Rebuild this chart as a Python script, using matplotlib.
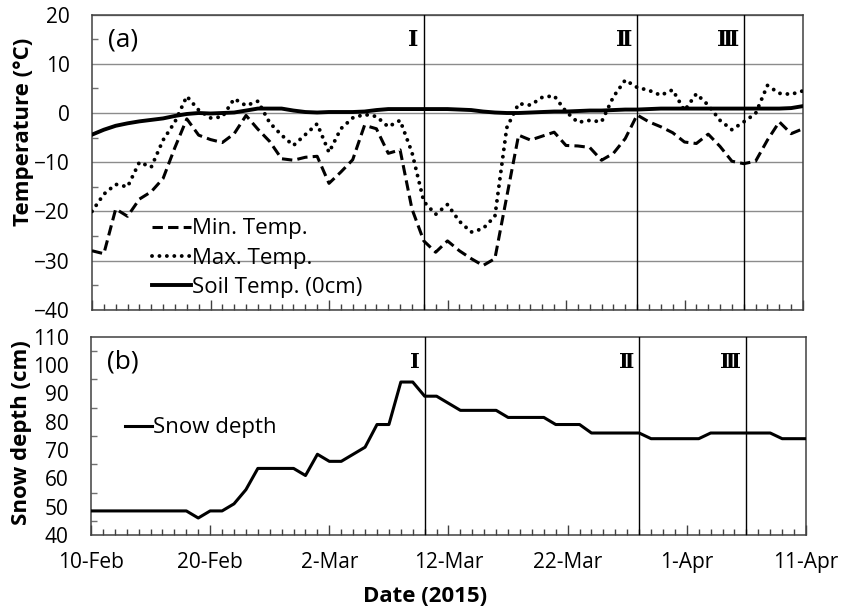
import numpy as np
import pandas as pd
import matplotlib
matplotlib.use("Agg")
import matplotlib.pyplot as plt
import matplotlib.dates as mdates
from matplotlib.ticker import MultipleLocator, FixedLocator

plt.rcParams["font.family"] = ["Open Sans", "DejaVu Sans"]

# Daily observations, 10 Feb - 11 Apr 2015
dates = pd.date_range("2015-02-10", "2015-04-11", freq="D")

min_temp = [-28.0, -28.6, -19.5, -21.0, -17.5, -16.0, -13.3, -7.0, -1.2, -4.5,
            -5.4, -6.0, -4.2, -0.5, -3.3, -5.8, -9.3, -9.6, -9.0, -8.8,
            -14.3, -12.0, -9.5, -2.5, -3.2, -8.2, -7.5, -19.5, -26.0, -28.3,
            -26.0, -28.0, -29.6, -31.0, -29.6, -17.0, -4.5, -5.5, -4.7, -3.9,
            -6.6, -6.7, -7.0, -9.6, -8.2, -5.2, -0.4, -1.8, -2.8, -4.0,
            -5.9, -6.2, -4.3, -6.8, -9.8, -10.3, -9.8, -5.5, -1.8, -4.2,
            -3.2]

max_temp = [-20.0, -16.5, -14.5, -15.0, -10.0, -11.0, -5.5, -1.8, 3.4, 0.6,
            -1.0, -0.8, 2.9, 1.5, 2.4, -2.0, -4.5, -6.6, -4.4, -2.2,
            -8.0, -3.2, -1.0, -0.3, -0.7, -2.8, -1.5, -8.0, -18.0, -20.6,
            -18.6, -22.0, -24.2, -23.5, -21.0, -3.0, 1.9, 1.6, 3.2, 3.5,
            0.3, -1.9, -1.5, -1.8, 3.3, 6.7, 5.2, 4.6, 3.6, 4.7,
            0.5, 3.9, 1.6, -1.5, -3.4, -1.8, -0.1, 5.6, 4.0, 3.8,
            4.5]

soil_temp = [-4.4, -3.4, -2.6, -2.1, -1.7, -1.4, -1.1, -0.6, -0.2, 0.0,
             -0.1, 0.0, 0.1, 0.5, 0.9, 0.9, 0.9, 0.5, 0.2, 0.1,
             0.2, 0.2, 0.2, 0.3, 0.6, 0.8, 0.8, 0.8, 0.8, 0.8,
             0.8, 0.7, 0.6, 0.3, 0.1, 0.0, 0.0, 0.1, 0.2, 0.3,
             0.3, 0.4, 0.5, 0.5, 0.6, 0.7, 0.7, 0.8, 0.9, 0.9,
             0.9, 0.9, 0.9, 0.9, 0.9, 0.9, 0.9, 0.9, 0.9, 1.0,
             1.4]

snow_depth = [48.5, 48.5, 48.5, 48.5, 48.5, 48.5, 48.5, 48.5, 48.5, 46.0,
              48.5, 48.5, 51.0, 56.0, 63.5, 63.5, 63.5, 63.5, 61.0, 68.5,
              66.0, 66.0, 68.5, 71.0, 79.0, 79.0, 94.0, 94.0, 89.0, 89.0,
              86.5, 84.0, 84.0, 84.0, 84.0, 81.5, 81.5, 81.5, 81.5, 79.0,
              79.0, 79.0, 76.0, 76.0, 76.0, 76.0, 76.0, 74.0, 74.0, 74.0,
              74.0, 74.0, 76.0, 76.0, 76.0, 76.0, 76.0, 76.0, 74.0, 74.0,
              74.0]

tick_dates = pd.date_range("2015-02-10", "2015-04-11", freq="10D")
tick_labels = ["10-Feb", "20-Feb", "2-Mar", "12-Mar", "22-Mar", "1-Apr", "11-Apr"]

# Boundaries between the observation periods
period_dates = pd.to_datetime(["2015-03-10", "2015-03-28", "2015-04-06"])
period_names = ["\u2160", "\u2161", "\u2162"]

W, H = 842, 611
fig = plt.figure(figsize=(W / 100, H / 100), dpi=100)


def frac_box(left, top, right, bottom):
    return [left / W, 1 - bottom / H, (right - left) / W, (bottom - top) / H]


ax1 = fig.add_axes(frac_box(92, 14.6, 803, 309.8))
ax2 = fig.add_axes(frac_box(91, 336.7, 806, 535))

spine_color = "#404040"
tick_fs = 15
leg_fs = 16

for ax in (ax1, ax2):
    for s in ax.spines.values():
        s.set_color(spine_color)
        s.set_linewidth(1.1)
    ax.set_xlim(dates[0], dates[-1])
    ax.xaxis.set_major_locator(FixedLocator(mdates.date2num(tick_dates)))
    ax.xaxis.set_minor_locator(mdates.DayLocator())
    ax.tick_params(axis="x", which="major", direction="in", length=7,
                   width=1, color=spine_color, labelsize=tick_fs, pad=12)
    ax.tick_params(axis="x", which="minor", direction="in", length=4,
                   width=1, color=spine_color)
    ax.tick_params(axis="y", which="major", direction="in", length=0,
                   labelsize=tick_fs, pad=16)
    ax.tick_params(axis="y", which="minor", direction="in", length=4,
                   width=1, color="#707070")
    for period in period_dates:
        ax.axvline(period, color="black", lw=1.0, zorder=4)

# (a) temperature panel
ax1.set_ylim(-40, 20)
ax1.yaxis.set_major_locator(MultipleLocator(10))
ax1.yaxis.set_minor_locator(MultipleLocator(5))
ax1.grid(axis="y", which="major", color="#8c8c8c", lw=1.0, zorder=0)
ax1.tick_params(axis="x", which="both", labelbottom=False)

ax1.plot(dates, min_temp, color="black", lw=2.2, ls=(0, (3.4, 1.7)),
         label="Min. Temp.", zorder=3)
ax1.plot(dates, max_temp, color="black", lw=2.8, ls=(0, (0.01, 1.9)),
         dash_capstyle="round", label="Max. Temp.", zorder=3)
ax1.plot(dates, soil_temp, color="black", lw=2.8, label="Soil Temp. (0cm)",
         zorder=3)

ax1.legend(loc="upper left", bbox_to_anchor=(0.084, 0.31), frameon=False,
           fontsize=leg_fs, handlelength=1.75, handletextpad=0.05,
           labelspacing=0.38, borderpad=0, borderaxespad=0)

ax1.text(0.022, 0.915, "(a)", transform=ax1.transAxes, fontsize=19,
         ha="left", va="center")

# (b) snow depth panel
ax2.set_ylim(40, 110)
ax2.yaxis.set_major_locator(MultipleLocator(10))
ax2.yaxis.set_minor_locator(MultipleLocator(5))
ax2.xaxis.set_major_formatter(plt.FixedFormatter(tick_labels))

ax2.plot(dates, snow_depth, color="black", lw=2.2, label="Snow depth",
         zorder=3)
ax2.legend(loc="center left", bbox_to_anchor=(0.047, 0.54), frameon=False,
           fontsize=leg_fs, handlelength=1.25, handletextpad=0.05,
           borderpad=0, borderaxespad=0)

ax2.text(0.022, 0.87, "(b)", transform=ax2.transAxes, fontsize=19,
         ha="left", va="center")

# period markers, drawn just left of each boundary line
roman_font = ["DejaVu Serif", "Noto Sans CJK JP"]
for ax, y, fs in ((ax1, 0.915, 16), (ax2, 0.87, 15)):
    for period, name in zip(period_dates, period_names):
        ax.annotate(name, xy=(mdates.date2num(period), y),
                    xycoords=("data", "axes fraction"),
                    xytext=(-5, 0), textcoords="offset pixels",
                    ha="right", va="center", fontsize=fs,
                    fontweight="bold", family=roman_font)

fig.text(24 / W, 1 - 132 / H, "Temperature (\u00b0C)", rotation=90,
         ha="center", va="center", fontsize=16, fontweight="bold")
fig.text(22 / W, 1 - 433 / H, "Snow depth (cm)", rotation=90,
         ha="center", va="center", fontsize=16, fontweight="bold")
fig.text(425 / W, 1 - 596 / H, "Date (2015)", ha="center", va="center",
         fontsize=16, fontweight="bold")

fig.savefig("out.png", dpi=100)
